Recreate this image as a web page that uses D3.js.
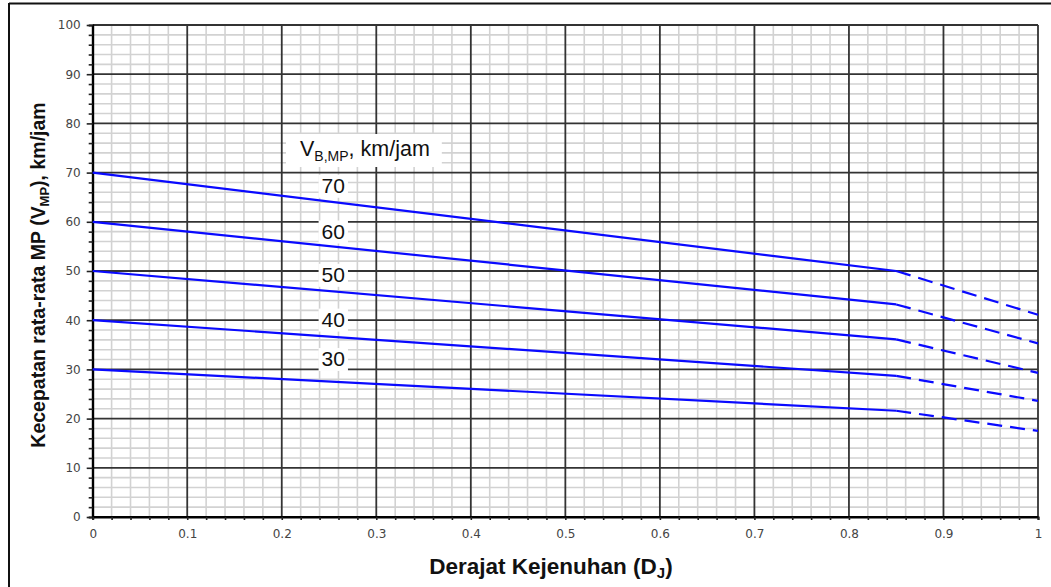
<!DOCTYPE html>
<html>
<head>
<meta charset="utf-8">
<script src="https://cdn.jsdelivr.net/npm/d3@7"></script>
<style>
  body { margin: 0; background: #fff; }
  svg { display: block; }
</style>
</head>
<body>
<svg id="chart" width="1051" height="587"></svg>
<script>
// Base speed curves V_B,MP (km/jam)
const baseSpeeds = [70, 60, 50, 40, 30];
// speed at DJ = 0.85 (end of solid part) and at DJ = 1 (end of dashed part)
const speedAtBreak = [50, 43.2, 36.1, 28.7, 21.6];
const speedAtEnd = [41.1, 35.3, 29.3, 23.6, 17.5];
const breakDJ = 0.85;
// where the curve labels sit (in data units)
const labelDJ = 0.2545;
const labelSpeed = [65.9, 56.6, 47.8, 38.7, 30.7];

const xTicks = [0, 0.1, 0.2, 0.3, 0.4, 0.5, 0.6, 0.7, 0.8, 0.9, 1];
const yTicks = [0, 10, 20, 30, 40, 50, 60, 70, 80, 90, 100];

// Set up SVG and margins
const margin = { top: 25, right: 13, bottom: 70, left: 92.7 };
const width = 1051 - margin.left - margin.right;
const height = 587 - margin.top - margin.bottom;

const svgRoot = d3.select("#chart");

// outer frame (left and top edges only)
svgRoot.append("line").attr("x1", 9).attr("x2", 9).attr("y1", 3).attr("y2", 587)
    .attr("stroke", "#111").attr("stroke-width", 2);
svgRoot.append("line").attr("x1", 9).attr("x2", 1051).attr("y1", 3.5).attr("y2", 3.5)
    .attr("stroke", "#111").attr("stroke-width", 2);

const svg = svgRoot.append("g")
    .attr("transform", "translate(" + margin.left + "," + margin.top + ")");

const x = d3.scaleLinear().domain([0, 1]).range([0, width]);
const y = d3.scaleLinear().domain([0, 100]).range([height, 0]);

// minor grid
const minorX = d3.range(0, 51).map(i => i / 50).filter(v => Math.round(v * 50) % 5 !== 0);
const minorY = d3.range(0, 101, 2).filter(v => v % 10 !== 0);

svg.append("g").selectAll("line")
    .data(minorX)
    .enter().append("line")
    .attr("x1", d => x(d)).attr("x2", d => x(d))
    .attr("y1", 0).attr("y2", height)
    .attr("stroke", "#d2d2d2").attr("stroke-width", 1.6);

svg.append("g").selectAll("line")
    .data(minorY)
    .enter().append("line")
    .attr("x1", 0).attr("x2", width)
    .attr("y1", d => y(d)).attr("y2", d => y(d))
    .attr("stroke", "#d2d2d2").attr("stroke-width", 1.6);

// major grid
svg.append("g").selectAll("line")
    .data(xTicks)
    .enter().append("line")
    .attr("x1", d => x(d)).attr("x2", d => x(d))
    .attr("y1", 0).attr("y2", height)
    .attr("stroke", d => d === 0 ? "#000" : "#333").attr("stroke-width", 1.8);

svg.append("g").selectAll("line")
    .data(yTicks)
    .enter().append("line")
    .attr("x1", 0).attr("x2", width)
    .attr("y1", d => y(d)).attr("y2", d => y(d))
    .attr("stroke", d => d === 0 ? "#000" : "#333").attr("stroke-width", 1.8);

// axes
const yAxis = svg.append("g")
    .call(d3.axisLeft(y)
        .tickValues(d3.range(0, 101, 2))
        .tickFormat(d => d % 10 === 0 ? d : "")
        .tickSize(4)
        .tickPadding(8));
yAxis.select(".domain").attr("stroke", "#000").attr("stroke-width", 2);
yAxis.selectAll(".tick line").attr("stroke", "#222").attr("stroke-width", 1.6)
    .attr("x2", d => d % 10 === 0 ? -6 : -4);
yAxis.selectAll(".tick text")
    .attr("font-family", "DejaVu Sans, Verdana, sans-serif")
    .attr("font-size", 12).attr("fill", "#444");

const xAxis = svg.append("g")
    .attr("transform", "translate(0," + height + ")")
    .call(d3.axisBottom(x)
        .tickValues(d3.range(0, 51).map(i => i / 50))
        .tickFormat(d => Math.round(d * 50) % 5 === 0 ? d3.format("~g")(d) : "")
        .tickSize(3)
        .tickPadding(9));
xAxis.select(".domain").attr("stroke", "#000").attr("stroke-width", 2);
xAxis.selectAll(".tick line").attr("stroke", "#222").attr("stroke-width", 1.6);
xAxis.selectAll(".tick text")
    .attr("font-family", "DejaVu Sans, Verdana, sans-serif")
    .attr("font-size", 12).attr("fill", "#444");

// legend title with white background
const legendG = svg.append("g");
const legendTitle = legendG.append("text")
    .attr("x", 300 - margin.left)
    .attr("y", 156 - margin.top)
    .attr("font-family", "Liberation Sans, Arial, sans-serif")
    .attr("font-size", 21.5)
    .attr("fill", "#111");
legendTitle.append("tspan").text("V");
legendTitle.append("tspan").attr("font-size", 14).attr("dy", 5).text("B,MP");
legendTitle.append("tspan").attr("dy", -5).text(", km/jam");
const lb = legendTitle.node().getBBox();
legendG.insert("rect", ":first-child")
    .attr("x", lb.x - 14).attr("y", lb.y - 3)
    .attr("width", lb.width + 26).attr("height", lb.height + 6)
    .attr("fill", "#fff");

// curve labels with white background
const labels = svg.append("g");
baseSpeeds.forEach((v, i) => {
    const g = labels.append("g");
    const t = g.append("text")
        .attr("x", x(labelDJ))
        .attr("y", y(labelSpeed[i]))
        .attr("text-anchor", "middle")
        .attr("font-family", "Liberation Sans, Arial, sans-serif")
        .attr("font-size", 21)
        .attr("fill", "#111")
        .text(v);
    const b = t.node().getBBox();
    g.insert("rect", ":first-child")
        .attr("x", b.x - 3).attr("y", b.y + 1)
        .attr("width", b.width + 6).attr("height", b.height)
        .attr("fill", "#fff");
});

// curves
const line = d3.line().x(d => x(d[0])).y(d => y(d[1]));

svg.append("g").selectAll("path")
    .data(baseSpeeds.map((v, i) => [[0, v], [breakDJ, speedAtBreak[i]]]))
    .enter().append("path")
    .attr("d", line)
    .attr("fill", "none")
    .attr("stroke", "#0a0aff")
    .attr("stroke-width", 2.2);

svg.append("g").selectAll("path")
    .data(baseSpeeds.map((v, i) => [[breakDJ, speedAtBreak[i]], [1, speedAtEnd[i]]]))
    .enter().append("path")
    .attr("d", line)
    .attr("fill", "none")
    .attr("stroke", "#0a0aff")
    .attr("stroke-width", 2.2)
    .attr("stroke-dasharray", "15,8");

// axis titles
const yTitle = svgRoot.append("text")
    .attr("transform", "translate(45," + 275 + ") rotate(-90)")
    .attr("text-anchor", "middle")
    .attr("font-family", "Liberation Sans, Arial, sans-serif")
    .attr("font-weight", "bold")
    .attr("font-size", 19.5)
    .attr("fill", "#111");
yTitle.append("tspan").text("Kecepatan rata-rata MP (V");
yTitle.append("tspan").attr("font-size", 13).attr("dy", 4).text("MP");
yTitle.append("tspan").attr("dy", -4).text("), km/jam");

const xTitle = svgRoot.append("text")
    .attr("x", 551)
    .attr("y", 574)
    .attr("text-anchor", "middle")
    .attr("font-family", "Liberation Sans, Arial, sans-serif")
    .attr("font-weight", "bold")
    .attr("font-size", 22.5)
    .attr("fill", "#111");
xTitle.append("tspan").text("Derajat Kejenuhan (D");
xTitle.append("tspan").attr("font-size", 15).attr("dy", 4).text("J");
xTitle.append("tspan").attr("dy", -4).text(")");
</script>
</body>
</html>
